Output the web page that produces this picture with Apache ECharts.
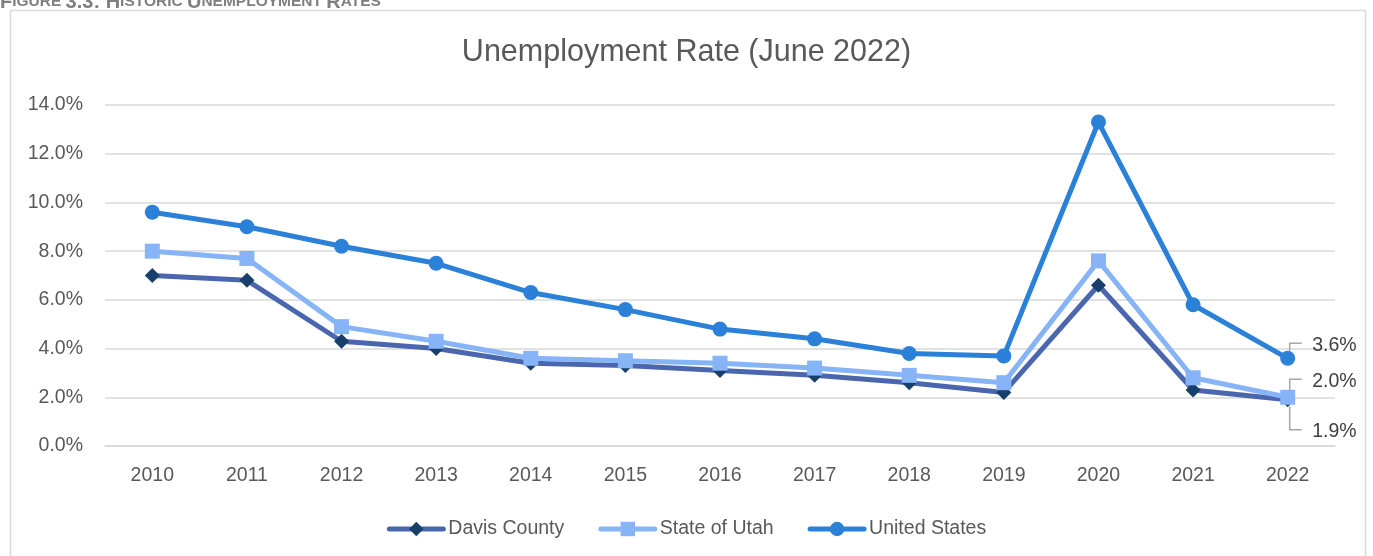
<!DOCTYPE html>
<html>
<head>
<meta charset="utf-8">
<title>Unemployment Rate (June 2022)</title>
<script src="https://cdn.jsdelivr.net/npm/echarts@6/dist/echarts.min.js"></script>
<style>
  html, body { margin: 0; padding: 0; background: #ffffff; }
  #chart { width: 1373px; height: 556px; }
</style>
</head>
<body>
<div id="chart"></div>
<script>
// Unemployment rate (%) in June of each year
const years = ['2010', '2011', '2012', '2013', '2014', '2015', '2016', '2017', '2018', '2019', '2020', '2021', '2022'];
const davisCounty = [7.0, 6.8, 4.3, 4.0, 3.4, 3.3, 3.1, 2.9, 2.6, 2.2, 6.6, 2.3, 1.9];
const stateOfUtah = [8.0, 7.7, 4.9, 4.3, 3.6, 3.5, 3.4, 3.2, 2.9, 2.6, 7.6, 2.8, 2.0];
const unitedStates = [9.6, 9.0, 8.2, 7.5, 6.3, 5.6, 4.8, 4.4, 3.8, 3.7, 13.3, 5.8, 3.6];
const yTicks = [0, 2, 4, 6, 8, 10, 12, 14];

const FONT = "'Liberation Sans', Arial, sans-serif";
const TEXT = '#595959';
const pct = v => v.toFixed(1) + '%';

// label offsets for the end-of-line value callouts (dy from the point)
const endLabelDy = { davis: 32, utah: -16, us: -13 };

function withEndLabel(values, dy) {
  return values.map((v, i) => i === values.length - 1
    ? { value: v, label: { show: true, position: 'right', distance: 17, offset: [0, dy],
        formatter: p => pct(p.value), color: '#404040', fontSize: 19.5, fontFamily: FONT } }
    : v);
}

const chart = echarts.init(document.getElementById('chart'), null, { renderer: 'canvas' });

const seriesDefs = [
  { name: 'Davis County', data: davisCounty, symbol: 'diamond', size: 15, line: '#4a66ae', mark: '#173f6b', dy: endLabelDy.davis },
  { name: 'State of Utah', data: stateOfUtah, symbol: 'rect', size: 15, line: '#86b4f6', mark: '#86b4f6', dy: endLabelDy.utah },
  { name: 'United States', data: unitedStates, symbol: 'circle', size: 15, line: '#2b80d8', mark: '#2b80d8', dy: endLabelDy.us }
];

const option = {
  animation: false,
  backgroundColor: '#ffffff',
  title: {
    text: 'Unemployment Rate (June 2022)',
    left: 'center',
    top: 32,
    textStyle: { fontFamily: FONT, fontSize: 30.5, fontWeight: 'normal', color: TEXT }
  },
  legend: {
    bottom: 12,
    left: 'center',
    itemWidth: 54,
    itemHeight: 18,
    itemGap: 34,
    textStyle: { fontFamily: FONT, fontSize: 19.5, color: TEXT },
    lineStyle: { width: 5, cap: 'round' },
    data: seriesDefs.map(s => s.name)
  },
  grid: { left: 105, right: 38, top: 105, bottom: 110, containLabel: false },
  xAxis: {
    type: 'category',
    data: years,
    boundaryGap: true,
    axisLine: { show: true, lineStyle: { color: '#d9d9d9', width: 1.5 } },
    axisTick: { show: false },
    axisLabel: { fontFamily: FONT, fontSize: 19.5, color: TEXT, margin: 20 }
  },
  yAxis: {
    type: 'value',
    min: yTicks[0],
    max: yTicks[yTicks.length - 1],
    interval: yTicks[1] - yTicks[0],
    axisLine: { show: false },
    axisTick: { show: false },
    splitLine: { lineStyle: { color: '#d9d9d9', width: 1.5 } },
    axisLabel: { fontFamily: FONT, fontSize: 19.5, color: TEXT, margin: 22, formatter: v => pct(v) }
  },
  series: seriesDefs.map(s => ({
    name: s.name,
    type: 'line',
    data: withEndLabel(s.data, s.dy),
    symbol: s.symbol,
    symbolSize: s.size,
    showAllSymbol: true,
    lineStyle: { color: s.line, width: 5 },
    itemStyle: { color: s.mark, borderWidth: 0 },
    emphasis: { disabled: true }
  }))
};

chart.setOption(option);

// Callout leader lines from the last points to their value labels
function leaderLines() {
  const last = years.length - 1;
  const specs = [
    { idx: 2, v: unitedStates[last], y0: -7, y1: -15 },
    { idx: 1, v: stateOfUtah[last], y0: -7, y1: -18 },
    { idx: 0, v: davisCounty[last], y0: 7, y1: 30 }
  ];
  return specs.map(s => {
    const p = chart.convertToPixel({ seriesIndex: s.idx }, [last, s.v]);
    const x = p[0] + 2;
    return {
      type: 'polyline',
      z: 20,
      shape: { points: [[x, p[1] + s.y0], [x, p[1] + s.y1], [x + 12, p[1] + s.y1]] },
      style: { stroke: '#a6a6a6', lineWidth: 1.5, fill: null }
    };
  });
}

chart.setOption({
  graphic: [
    // outer frame of the figure
    {
      type: 'rect',
      shape: { x: 10.5, y: 10.5, width: 1355, height: 620 },
      style: { stroke: '#d9d9d9', lineWidth: 1.5, fill: null },
      silent: true,
      z: 0
    },
    // figure caption in small caps, clipped by the top of the page
    {
      type: 'text',
      left: 0,
      top: -8,
      style: {
        text: '{b|F}{s|IGURE }{b|3.3: H}{s|ISTORIC }{b|U}{s|NEMPLOYMENT }{b|R}{s|ATES}',
        rich: {
          b: { fontFamily: FONT, fontWeight: 'bold', fontSize: 20, lineHeight: 20, fill: '#7f7f7f' },
          s: { fontFamily: FONT, fontWeight: 'bold', fontSize: 15.5, lineHeight: 20, fill: '#7f7f7f' }
        }
      },
      silent: true
    }
  ].concat(leaderLines())
});
</script>
</body>
</html>
